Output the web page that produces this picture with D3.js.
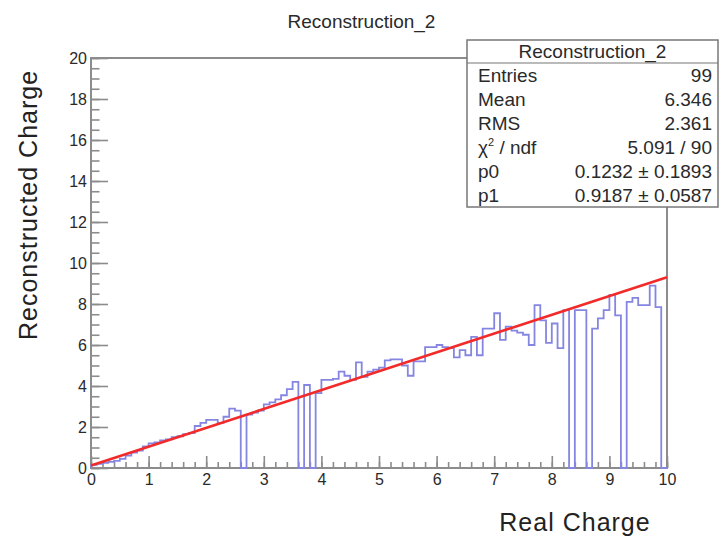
<!DOCTYPE html>
<html>
<head>
<meta charset="utf-8">
<script src="https://cdn.jsdelivr.net/npm/d3@7"></script>
<style>
  html, body { margin: 0; padding: 0; background: #fff; }
  svg { display: block; }
  text { font-family: "Liberation Sans", Arial, Helvetica, sans-serif; }
</style>
</head>
<body>
<script>
// Histogram: 100 bins of width 0.1 between 0 and 10
const binLow = 0;
const binHigh = 10;
const binContents = [
  0.15, 0.2, 0.25, 0.3, 0.35, 0.45, 0.6, 0.75, 0.85, 1.05,
  1.2, 1.25, 1.35, 1.4, 1.5, 1.55, 1.65, 1.7, 2.05, 2.2,
  2.35, 2.35, 2.2, 2.5, 2.9, 2.8, 0, 2.6, 2.7, 2.8,
  3.1, 3.2, 3.35, 3.55, 3.85, 4.2, 0, 4.05, 0, 3.65,
  4.3, 4.3, 4.35, 4.7, 4.5, 4.3, 5.15, 4.45, 4.7, 4.8,
  4.9, 5.25, 5.3, 5.3, 5.0, 4.5, 5.2, 5.2, 5.9, 5.9,
  6.0, 5.9, 5.85, 5.4, 5.75, 5.5, 6.4, 5.5, 6.8, 6.8,
  7.55, 6.25, 6.9, 6.7, 6.6, 6.5, 6.0, 7.95, 7.2, 6.1,
  7.05, 5.85, 7.7, 0, 7.7, 7.7, 0, 6.8, 7.3, 7.7,
  8.45, 7.45, 0, 8.1, 8.3, 7.95, 7.95, 8.9, 7.85, 0
];

// Linear fit pol1: p0 + p1*x
const fitP0 = 0.1232;
const fitP1 = 0.9187;

// Axis ticks
const xTickValues = [0, 1, 2, 3, 4, 5, 6, 7, 8, 9, 10];
const yTickValues = [0, 2, 4, 6, 8, 10, 12, 14, 16, 18, 20];
const xMinorStep = 0.2;
const yMinorStep = 0.5;

// Texts
const chartTitle = "Reconstruction_2";
const xTitle = "Real Charge";
const yTitle = "Reconstructed Charge";

// Statistics box rows
const statNames = ["Entries", "Mean", "RMS", "chi2", "p0", "p1"];
const statValues = ["99", "6.346", "2.361", "5.091 / 90", "0.1232 \u00b1 0.1893", "0.9187 \u00b1 0.0587"];

const W = 723, H = 538;
const frame = { left: 91, right: 667, top: 58, bottom: 468 };

const svg = d3.select("body").append("svg")
  .attr("width", W).attr("height", H);

const x = d3.scaleLinear().domain([0, 10]).range([frame.left, frame.right]);
const y = d3.scaleLinear().domain([0, 20]).range([frame.bottom, frame.top]);

const axisColor = "#8c8c8c";
const labelColor = "#2a2a2a";

// Frame
svg.append("rect")
  .attr("x", frame.left).attr("y", frame.top)
  .attr("width", frame.right - frame.left).attr("height", frame.bottom - frame.top)
  .attr("fill", "#fff").attr("stroke", axisColor).attr("stroke-width", 2);

// Minor ticks
const xMinor = d3.range(binLow, binHigh + 1e-9, xMinorStep).map(v => +v.toFixed(4));
const yMinor = d3.range(0, 20 + 1e-9, yMinorStep).map(v => +v.toFixed(4));

function styleAxis(g) {
  g.select(".domain").remove();
  g.selectAll(".tick line").attr("stroke", axisColor).attr("stroke-width", 1.6);
  g.selectAll(".tick text").attr("fill", labelColor)
    .style("font-size", "16px");
}

svg.append("g").attr("transform", `translate(0,${frame.bottom})`)
  .call(d3.axisBottom(x).tickValues(xMinor).tickSize(-6).tickFormat(""))
  .call(styleAxis);
svg.append("g").attr("transform", `translate(${frame.left},0)`)
  .call(d3.axisLeft(y).tickValues(yMinor).tickSize(-8.5).tickFormat(""))
  .call(styleAxis);

svg.append("g").attr("transform", `translate(0,${frame.bottom})`)
  .call(d3.axisBottom(x).tickValues(xTickValues).tickSize(-12).tickPadding(6).tickFormat(d3.format("d")))
  .call(styleAxis);
svg.append("g").attr("transform", `translate(${frame.left},0)`)
  .call(d3.axisLeft(y).tickValues(yTickValues).tickSize(-17).tickPadding(4).tickFormat(d3.format("d")))
  .call(styleAxis);

// Histogram outline (step line)
const binWidth = (binHigh - binLow) / binContents.length;
const pts = [[binLow, 0]];
binContents.forEach((v, i) => {
  const lo = binLow + i * binWidth, hi = lo + binWidth;
  pts.push([lo, v], [hi, v]);
});
pts.push([binHigh, 0]);

svg.append("path")
  .datum(pts)
  .attr("d", d3.line().x(d => x(d[0])).y(d => y(d[1])))
  .attr("fill", "none")
  .attr("stroke", "#8585e2")
  .attr("stroke-width", 1.8)
  .attr("stroke-linejoin", "miter");

// Fit line
const fitX = [binLow, binHigh];
svg.append("path")
  .datum(fitX.map(v => [v, fitP0 + fitP1 * v]))
  .attr("d", d3.line().x(d => x(d[0])).y(d => y(d[1])))
  .attr("fill", "none")
  .attr("stroke", "#f22a2a")
  .attr("stroke-width", 2.6);

// Title
svg.append("text")
  .attr("x", W / 2).attr("y", 28)
  .attr("text-anchor", "middle")
  .attr("fill", "#2a2a2a")
  .style("font-size", "19px")
  .text(chartTitle);

// Axis titles
svg.append("text")
  .attr("x", 575).attr("y", 531)
  .attr("text-anchor", "middle")
  .attr("fill", "#222")
  .style("font-size", "25px")
  .style("letter-spacing", "1px")
  .text(xTitle);

svg.append("text")
  .attr("transform", `translate(37,205) rotate(-90)`)
  .attr("text-anchor", "middle")
  .attr("fill", "#222")
  .style("font-size", "25px")
  .style("letter-spacing", "1px")
  .text(yTitle);

// Statistics box
const box = { x: 467, y: 40, w: 251, h: 167, head: 23 };
const statFont = "19px";
const sb = svg.append("g");
sb.append("rect")
  .attr("x", box.x).attr("y", box.y).attr("width", box.w).attr("height", box.h)
  .attr("fill", "#fff").attr("stroke", "#777").attr("stroke-width", 1.5);
sb.append("line")
  .attr("x1", box.x).attr("x2", box.x + box.w)
  .attr("y1", box.y + box.head).attr("y2", box.y + box.head)
  .attr("stroke", "#777").attr("stroke-width", 1.2);
sb.append("text")
  .attr("x", box.x + box.w / 2).attr("y", box.y + 18)
  .attr("text-anchor", "middle").attr("fill", "#2a2a2a")
  .style("font-size", statFont)
  .text(chartTitle);

const rowH = (box.h - box.head) / statNames.length;
statNames.forEach((name, i) => {
  const cy = box.y + box.head + rowH * (i + 0.5) + 7;
  const t = sb.append("text")
    .attr("x", box.x + 11).attr("y", cy)
    .attr("fill", "#2a2a2a").style("font-size", statFont);
  if (name === "chi2") {
    t.append("tspan").text("\u03c7");
    t.append("tspan").attr("dy", -8).style("font-size", "11px").text("2");
    t.append("tspan").attr("dy", 8).text(" / ndf");
  } else {
    t.text(name);
  }
  sb.append("text")
    .attr("x", box.x + box.w - 6).attr("y", cy)
    .attr("text-anchor", "end")
    .attr("fill", "#2a2a2a").style("font-size", statFont)
    .text(statValues[i]);
});
</script>
</body>
</html>
